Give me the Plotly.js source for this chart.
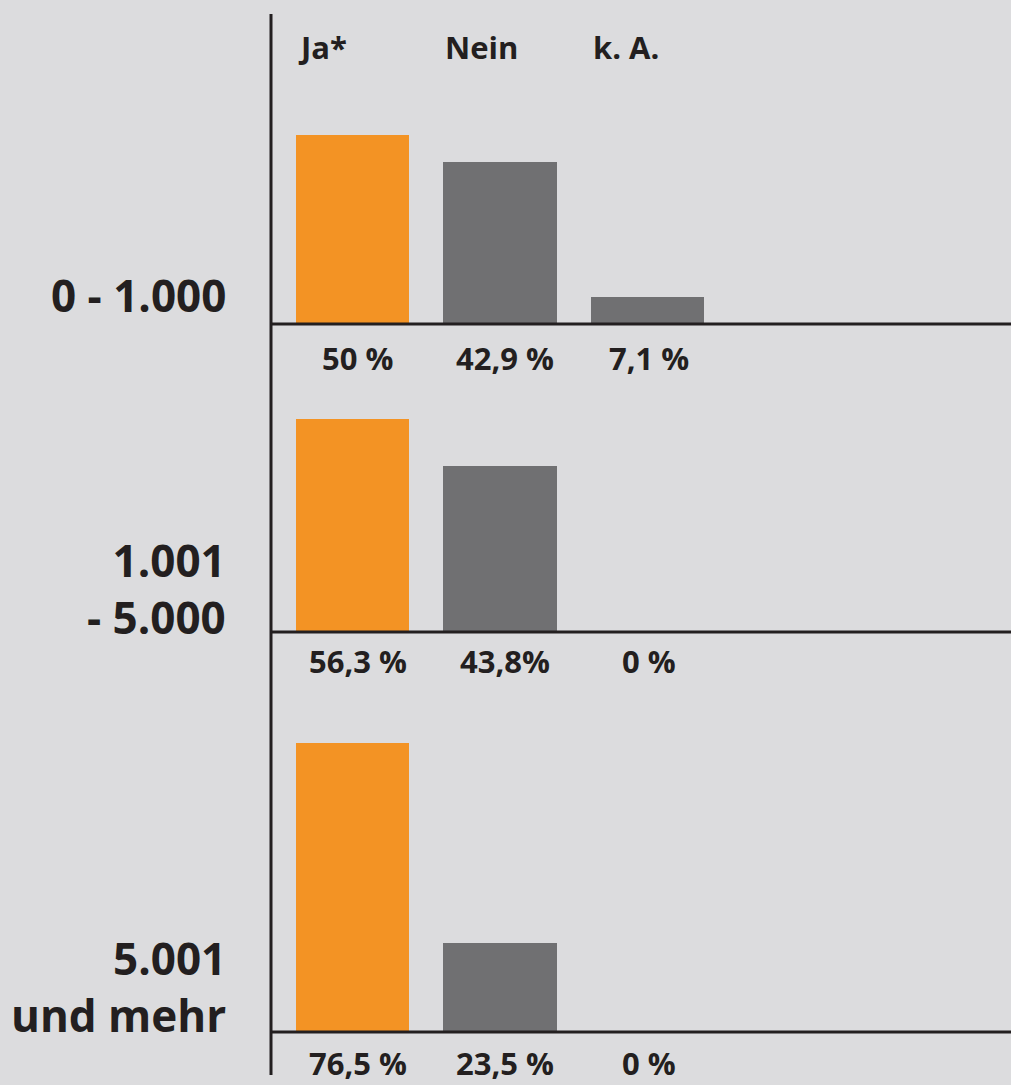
<!DOCTYPE html>
<html>
<head>
<meta charset="utf-8">
<script src="https://cdn.plot.ly/plotly-3.0.1.min.js"></script>
<style>
html,body{margin:0;padding:0;background:#dcdcde;}
#chart{width:1011px;height:1085px;}
</style>
</head>
<body>
<div id="chart"></div>
<script>
// ---- data ----
const categories = ['Ja*', 'Nein', 'k. A.'];
const groups = ['0 - 1.000', '1.001<br>- 5.000', '5.001<br>und mehr'];
const jaValues = [50, 56.3, 76.5];
const neinValues = [42.9, 43.8, 23.5];
const kaValues = [7.1, 0, 0];
const valueLabels = [
  ['50 %', '42,9 %', '7,1 %'],
  ['56,3 %', '43,8%', '0 %'],
  ['76,5 %', '23,5 %', '0 %']
];

// ---- layout helpers ----
const W = 1011, H = 1085;
const BG = '#dcdcde', ORANGE = '#f39324', GRAY = '#707072', INK = '#231f20';
const FONT = 'Open Sans, Noto Sans, sans-serif';
const scale = 3.78;               // px per percentage point
const baselines = [324, 632, 1032];
const tops = [80, 345, 660];
const labelCenters = [295, 588, 986];
const pctShift = [34, 29, 31];
const axisX = 271;
const py = p => 1 - p / H;
const px = p => p / W;

const traces = [];
const layout = {
  width: W, height: H,
  margin: {l: 0, r: 0, t: 0, b: 0},
  paper_bgcolor: BG, plot_bgcolor: BG,
  showlegend: false,
  bargap: 0,
  xaxis: {domain: [px(axisX), 1], range: [-0.5525, 4.464], visible: false, type: 'category', fixedrange: true},
  annotations: [],
  shapes: []
};

for (let i = 0; i < 3; i++) {
  const yName = i === 0 ? 'y' : 'y' + (i + 1);
  const yKey = i === 0 ? 'yaxis' : 'yaxis' + (i + 1);
  traces.push({
    type: 'bar',
    x: categories,
    y: [jaValues[i], neinValues[i], kaValues[i]],
    xaxis: 'x', yaxis: yName,
    width: 0.77,
    marker: {color: [ORANGE, GRAY, GRAY], line: {width: 0}},
    hoverinfo: 'none'
  });
  layout[yKey] = {
    domain: [py(baselines[i]), py(tops[i])],
    range: [0, (baselines[i] - tops[i]) / scale],
    visible: false, fixedrange: true
  };
  // baseline (paper-referenced so it is not clipped by the subplot)
  layout.shapes.push({
    type: 'line', xref: 'paper', yref: 'paper', layer: 'above',
    x0: px(axisX), x1: 1, y0: py(baselines[i]), y1: py(baselines[i]),
    line: {color: INK, width: 3}
  });
  // group label
  layout.annotations.push({
    xref: 'paper', yref: 'paper', x: px(227), y: py(labelCenters[i]),
    xanchor: 'right', yanchor: 'middle', align: 'right', showarrow: false,
    borderpad: 0,
    text: '<b>' + groups[i] + '</b>',
    font: {family: FONT, size: 44, color: INK}
  });
  // value labels
  categories.forEach((c, j) => {
    layout.annotations.push({
      xref: 'x', yref: yName, x: c, y: 0,
      yshift: -pctShift[i], yanchor: 'middle', xanchor: 'center', showarrow: false,
      xshift: j === 2 ? 1 : 5, borderpad: 0,
      text: '<b>' + valueLabels[i][j] + '</b>',
      font: {family: FONT, size: 31, color: INK}
    });
  });
}

// header labels
categories.forEach((c, j) => {
  layout.annotations.push({
    xref: 'x', yref: 'paper', x: j - 0.385, y: py(47),
    xanchor: 'left', yanchor: 'middle', showarrow: false,
    text: '<b>' + c + '</b>',
    font: {family: FONT, size: 31, color: INK}
  });
});

// vertical axis line
layout.shapes.push({
  type: 'line', xref: 'paper', yref: 'paper', layer: 'above',
  x0: px(axisX), x1: px(axisX), y0: py(14), y1: py(1075),
  line: {color: INK, width: 3}
});

Plotly.newPlot('chart', traces, layout, {staticPlot: true, displayModeBar: false});
</script>
</body>
</html>
